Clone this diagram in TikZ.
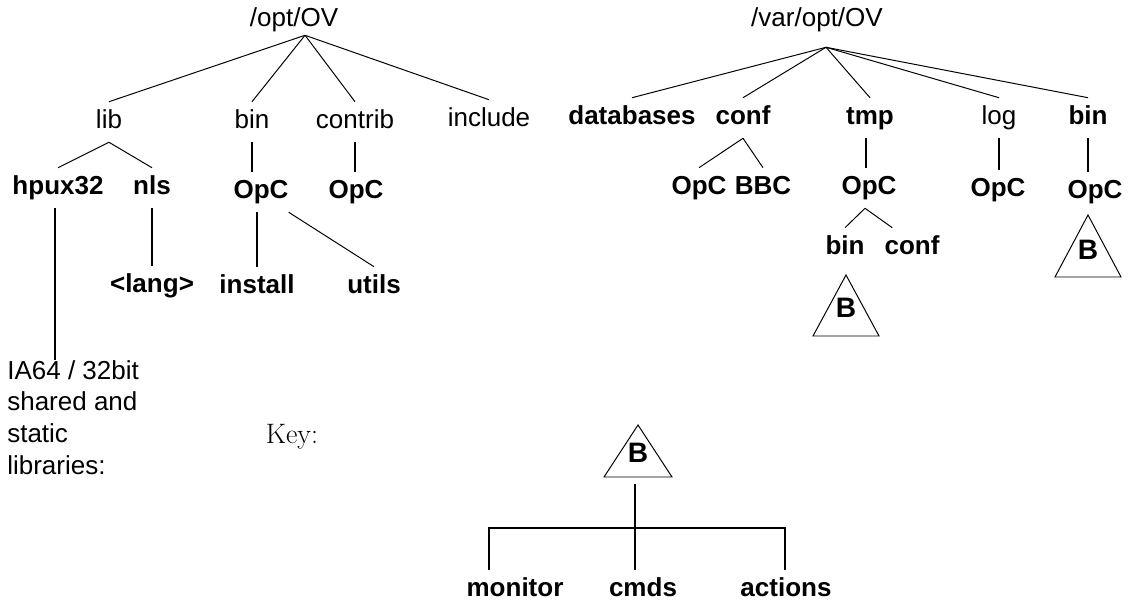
\documentclass[tikz,border=0pt]{standalone}
\usepackage{fontspec}
\setsansfont{Liberation Sans}
\newcommand{\dirfont}{\sffamily\fontsize{18.5}{22.5}\selectfont}
\tikzset{
    dirR/.style={font=\dirfont, inner xsep=0pt, inner ysep=0.2cm, text height=0.47cm, text depth=0.13cm},
    dirB/.style={dirR, font=\dirfont\bfseries},
    bsym/.style={dirB, font=\sffamily\bfseries\fontsize{20}{24}\selectfont},
    branch/.style={line width=0.7pt},
    stem/.style={line width=1.3pt},
    tri/.style={line width=0.7pt, line join=miter}
}
% triangle round a "B" node: name, half width, height up, depth down
\newcommand{\btri}[4]{%
    \draw[tri] ([shift={(0,-#3)}]#1.center) -- ([shift={(-#2,#4)}]#1.center) -- ([shift={(#2,#4)}]#1.center) -- cycle;}

\begin{document}
\begin{tikzpicture}[x=0.025cm, y=-0.025cm]
    \useasboundingbox (0,0) rectangle (1129,604);
    % /opt/OV
    \node[dirR] (opt) at (294,20) {/opt/OV};
    \node[dirR] (lib) at (109,122) {lib};
    \node[dirR] (binA) at (252,122) {bin};
    \node[dirR] (contrib) at (355,122) {contrib};
    \node[dirR] (include) at (489,120) {include};
    \node[dirB] (hpux) at (58,188) {hpux32};
    \node[dirB] (nls) at (152,188) {nls};
    \node[dirB] (opcA) at (261,192) {OpC};
    \node[dirB] (opcB) at (356,192) {OpC};
    \node[dirB] (lang) at (152,286) {<lang>};
    \node[dirB] (install) at (257,287) {install};
    \node[dirB] (utils) at (374,287) {utils};
    \node[font=\dirfont, anchor=north west, align=left, inner sep=0pt] (libtxt) at (7,360)
        {IA64 / 32bit\\shared and\\static\\libraries:};
    \foreach \c in {lib,binA,contrib,include}
        \draw[branch] ([shift={(11,-5)}]opt.south) -- (\c.north);
    \draw[branch] (lib.south) -- (hpux.north);
    \draw[branch] (lib.south) -- (nls.north);
    \draw[stem] (binA.south) -- (binA.south |- opcA.north);
    \draw[stem] (contrib.south) -- (contrib.south |- opcB.north);
    \draw[stem] ([xshift=-0.1cm]opcA.south) -- ([xshift=-0.1cm]opcA.south |- install.north);
    \draw[branch] (opcA.south east) -- (utils.north);
    \draw[stem] (nls.south) -- (nls.south |- lang.north);
    \draw[stem] ([xshift=-0.07cm]hpux.south) -- ([xshift=-0.07cm]hpux.south |- libtxt.north);

    % /var/opt/OV
    \node[dirR] (var) at (817,20) {/var/opt/OV};
    \node[dirB] (db) at (632,118) {databases};
    \node[dirB] (confA) at (743,118) {conf};
    \node[dirB] (tmp) at (870,118) {tmp};
    \node[dirR] (log) at (999,118) {log};
    \node[dirB] (binB) at (1088,118) {bin};
    \node[dirB] (opcC) at (699,188) {OpC};
    \node[dirB] (bbc) at (763,188) {BBC};
    \node[dirB] (opcD) at (869,188) {OpC};
    \node[dirB] (opcE) at (998,190) {OpC};
    \node[dirB] (opcF) at (1095,192) {OpC};
    \node[dirB] (binC) at (845,248) {bin};
    \node[dirB] (confB) at (912,248) {conf};
    \node[bsym] (bMid) at (846,311) {B};
    \node[bsym] (bRight) at (1088,253) {B};
    \foreach \c in {db,confA,tmp,log,binB}
        \draw[branch] ([shift={(9,7)}]var.south) -- (\c.north);
    \draw[branch] (confA.south) -- (opcC.north);
    \draw[branch] (confA.south) -- (bbc.north);
    \draw[stem] ([xshift=-0.1cm]tmp.south) -- ([xshift=-0.1cm]tmp.south |- opcD.north);
    \draw[stem] (log.south) -- (log.south |- opcE.north);
    \draw[stem] (binB.south) -- (binB.south |- opcF.north);
    \draw[branch] ([xshift=-0.1cm]opcD.south) -- (binC.north);
    \draw[branch] ([xshift=-0.1cm]opcD.south) -- ([xshift=0.2cm]confB.north west);
    \btri{bMid}{33}{36}{25}
    \btri{bRight}{33}{38}{24}

    % key
    \node[font=\rmfamily\fontsize{20}{24}\selectfont] (key) at (292,437) {Key:};
    \node[bsym] (bKey) at (638,456) {B};
    \btri{bKey}{34}{31}{21}
    \node[dirB] (monitor) at (515,590) {monitor};
    \node[dirB] (cmds) at (643,590) {cmds};
    \node[dirB] (actions) at (786,590) {actions};
    \coordinate (keyFoot) at ([shift={(-3,28)}]bKey.center);
    \coordinate (barL) at (489,528);
    \coordinate (barR) at (785,528);
    \draw[stem] (keyFoot) -- (keyFoot |- cmds.north);
    \draw[stem] (barL |- monitor.north) -- (barL) -- (barR) -- (barR |- actions.north);
\end{tikzpicture}
\end{document}
